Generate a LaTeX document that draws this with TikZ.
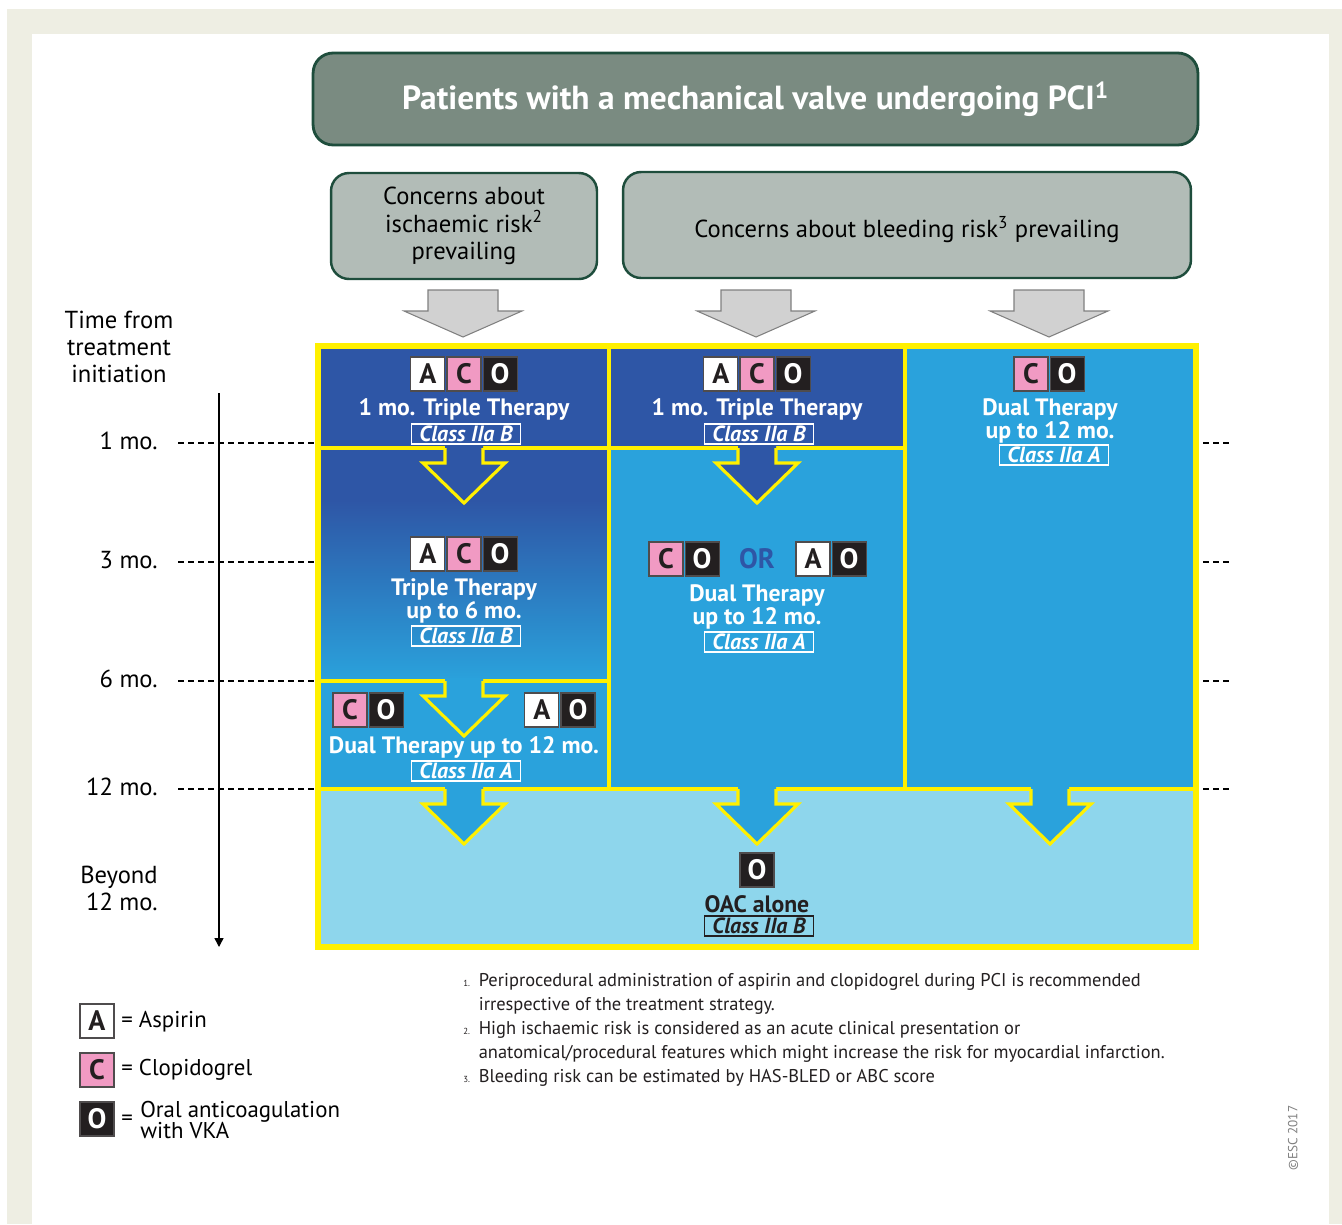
\documentclass[tikz,border=0pt]{standalone}
\usepackage{fontspec}
\setmainfont{PT Sans}
\usetikzlibrary{positioning,arrows.meta}

\definecolor{beige}{HTML}{EEEEE3}
\definecolor{darkblue}{HTML}{2E56A6}
\definecolor{midblue}{HTML}{2AA2DC}
\definecolor{paleblue}{HTML}{8ED6EC}
\definecolor{frameyellow}{HTML}{FFF000}
\definecolor{pinkc}{HTML}{F19AC3}
\definecolor{ink}{HTML}{231F20}
\definecolor{titlegreen}{HTML}{7A8B81}
\definecolor{edgegreen}{HTML}{1E4D3C}
\definecolor{concerngray}{HTML}{B2BCB7}
\definecolor{arrowgray}{HTML}{D1D1D1}

% block arrow in the grid: #1 fill, #2 x centre, #3 y top
\newcommand{\gridarrow}[3]{%
  \fill[#1] (#2-19,#3-3) -- (#2-19,#3+15) -- (#2-41,#3+15) -- (#2,#3+55) -- (#2+41,#3+15) -- (#2+19,#3+15) -- (#2+19,#3-3) -- cycle;
  \draw[frameyellow,line width=1.8pt,line join=miter] (#2-19,#3) -- (#2-19,#3+15) -- (#2-41,#3+15) -- (#2,#3+55) -- (#2+41,#3+15) -- (#2+19,#3+15) -- (#2+19,#3);}
% grey arrow under the concern boxes
\newcommand{\grayarrow}[1]{%
  \filldraw[fill=arrowgray,draw=gray,line width=0.6pt] (#1-35,290) -- (#1-35,311) -- (#1-59,311) -- (#1,337) -- (#1+59,311) -- (#1+35,311) -- (#1+35,290) -- cycle;}

\begin{document}
\begin{tikzpicture}[x=0.02cm,y=-0.02cm,
  tile/.style={minimum size=0.68cm,inner sep=0pt,draw=ink!80,line width=0.6pt,font=\bfseries\fontsize{16}{16}\selectfont},
  tA/.style={tile,fill=white,text=ink},
  tC/.style={tile,fill=pinkc,text=ink},
  tO/.style={tile,fill=ink,text=white},
  celltext/.style={text=white,font=\bfseries\fontsize{13.5}{12.8}\selectfont,align=center,inner sep=0pt},
  classbox/.style={draw=white,text=white,line width=0.8pt,inner xsep=4.5pt,inner ysep=1.2pt,font=\bfseries\itshape\fontsize{12.5}{12.5}\selectfont},
  concern/.style={draw=edgegreen,fill=concerngray,line width=1.4pt,rounded corners=0.36cm,align=center,font=\fontsize{14}{15.5}\selectfont},
  timelabel/.style={font=\fontsize{14}{15.3}\selectfont,inner sep=0pt},
  timeline/.style={dash pattern=on 3.4pt off 2.3pt,line width=0.8pt},
  gridline/.style={frameyellow,line width=2.2pt}]
\useasboundingbox (0,0) rectangle (1342,1224);
\fill[beige] (7,9) rectangle (1342,1224);
\fill[white] (32,34) rectangle (1329,1224);

%% headers
\node[draw=edgegreen,fill=titlegreen,line width=1.6pt,rounded corners=0.4cm,minimum width=17.7cm,minimum height=1.84cm,text=white,font=\bfseries\fontsize{19}{21}\selectfont] (title) at (755.5,99) {Patients with a mechanical valve undergoing PCI\textsuperscript{1}};
\node[concern,minimum width=5.32cm,minimum height=2.12cm] (ischaemic) at (464,226) {Concerns about\\ischaemic risk\textsuperscript{2}\\prevailing};
\node[concern,minimum width=11.36cm,minimum height=2.12cm] (bleeding) at (907,225) {\raisebox{-2.5pt}[\height][\depth]{Concerns about bleeding risk\textsuperscript{3} prevailing}};
\grayarrow{463}
\grayarrow{756}
\grayarrow{1049}

%% cells
\fill[darkblue] (318,346) rectangle (905,448);
\fill[darkblue] (318,448) rectangle (609,500);
\shade[top color=darkblue,bottom color=midblue] (318,500) rectangle (609,681);
\fill[midblue] (318,681) rectangle (609,789);
\fill[midblue] (609,448) rectangle (905,789);
\fill[midblue] (905,346) rectangle (1196,789);
\fill[paleblue] (318,789) rectangle (1196,947);
\draw[gridline] (318,448) -- (905,448);
\draw[gridline] (318,681) -- (609,681);
\draw[gridline] (318,789) -- (1196,789);
\draw[gridline] (609,346) -- (609,789);
\draw[gridline] (905,346) -- (905,789);

\gridarrow{darkblue}{464}{448}
\gridarrow{darkblue}{757}{448}
\gridarrow{midblue}{464}{681}
\gridarrow{midblue}{464}{789}
\gridarrow{midblue}{757}{789}
\gridarrow{midblue}{1050}{789}
\draw[frameyellow,line width=3pt] (318,346) rectangle (1196,947);

%% time axis
\node[timelabel,align=center] (timehead) at (119,347) {Time from\\treatment\\initiation};
\coordinate (tstart) at (219,393);
\coordinate (tend) at (219,947);
\draw[line width=0.8pt,-{Triangle[length=5pt,width=5pt]}] (tstart) -- (tend);
\foreach \y/\lab [count=\i] in {443/1 mo.,562/3 mo.,681/6 mo.,789/12 mo.}{
  \node[timelabel,anchor=east] (t\i) at (158,\y-2) {\lab};
  \draw[timeline] (178,\y) -- (318,\y);
  \draw[timeline] (1203,\y) -- (1232,\y);
}
\node[timelabel,anchor=east,align=right] (t5) at (158,888) {Beyond\\12 mo.};

%% column 1
\node[tC] (c1) at (464,374) {C};
\node[tA,left=0.6pt of c1] (a1) {A};
\node[tO,right=0.6pt of c1] (o1) {O};
\node[celltext] (txt1) at (464,409) {1 mo. Triple Therapy};
\node[classbox] (cls1) at (466,434) {Class IIa B};

\node[tC] (c2) at (464,554) {C};
\node[tA,left=0.6pt of c2] (a2) {A};
\node[tO,right=0.6pt of c2] (o2) {O};
\node[celltext] (txt2) at (464,601) {Triple Therapy\\up to 6 mo.};
\node[classbox] (cls2) at (466,636) {Class IIa B};

\node[tC] (c3) at (350,710) {C};
\node[tO,right=0.6pt of c3] (o3) {O};
\node[tO] (o4) at (578,710) {O};
\node[tA,left=0.6pt of o4] (a4) {A};
\node[celltext] (txt3) at (464,747) {Dual Therapy up to 12 mo.};
\node[classbox] (cls3) at (466,771) {Class IIa A};

%% column 2
\node[tC] (c5) at (757,374) {C};
\node[tA,left=0.6pt of c5] (a5) {A};
\node[tO,right=0.6pt of c5] (o5) {O};
\node[celltext] (txt5) at (757,409) {1 mo. Triple Therapy};
\node[classbox] (cls5) at (759,434) {Class IIa B};

\node[tC] (c6) at (666,559) {C};
\node[tO,right=0.6pt of c6] (o6) {O};
\node[text=darkblue,font=\bfseries\fontsize{16}{16}\selectfont] (or) at (757,559) {OR};
\node[tA] (a7) at (813,559) {A};
\node[tO,right=0.6pt of a7] (o7) {O};
\node[celltext] (txt6) at (757,607) {Dual Therapy\\up to 12 mo.};
\node[classbox] (cls6) at (759,642) {Class IIa A};

%% column 3
\node[tC] (c8) at (1031,374) {C};
\node[tO,right=0.6pt of c8] (o8) {O};
\node[celltext] (txt8) at (1050,421) {Dual Therapy\\up to 12 mo.};
\node[classbox] (cls8) at (1054,455) {Class IIa A};

%% beyond 12 months
\node[tO] (o9) at (757,870) {O};
\node[celltext,text=ink] (txt9) at (757,904) {OAC alone};
\node[classbox,draw=ink,text=ink] (cls9) at (759,926) {Class IIa B};

%% legend
\node[tA] (la) at (97,1021) {A};
\node[tC] (lc) at (97,1070) {C};
\node[tO] (lo) at (97,1119) {O};
\node[timelabel,anchor=west,font=\fontsize{13}{13}\selectfont] (lta) at (121,1022) {= Aspirin};
\node[timelabel,anchor=west,font=\fontsize{13}{13}\selectfont] (ltc) at (121,1070) {= Clopidogrel};
\node[timelabel,anchor=west,font=\fontsize{13}{13}\selectfont] (lteq) at (121,1120) {=};
\node[timelabel,anchor=west,align=left,font=\fontsize{13}{12.5}\selectfont] (lto) at (140,1120) {Oral anticoagulation\\with VKA};

%% footnotes
\node[anchor=north west,align=left,inner sep=0pt,text=ink,font=\fontsize{10.5}{13.6}\selectfont] (notes) at (463,973) {%
{\tiny 1.}\hspace{5pt}Periprocedural administration of aspirin and clopidogrel during PCI is recommended\\
\phantom{{\tiny 1.}\hspace{5pt}}irrespective of the treatment strategy.\\
{\tiny 2.}\hspace{5pt}High ischaemic risk is considered as an acute clinical presentation or\\
\phantom{{\tiny 2.}\hspace{5pt}}anatomical/procedural features which might increase the risk for myocardial infarction.\\
{\tiny 3.}\hspace{5pt}Bleeding risk can be estimated by HAS-BLED or ABC score};
\node[rotate=90,text=gray,font=\fontsize{7.5}{8}\selectfont] (copy) at (1293,1138) {©ESC 2017};
\end{tikzpicture}
\end{document}
